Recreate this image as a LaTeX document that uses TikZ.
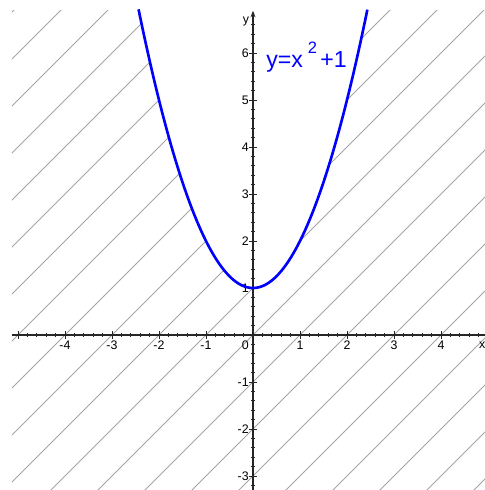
\documentclass[tikz,border=0pt]{standalone}
\usepackage{fontspec}
\setmainfont{Liberation Sans}
\usepackage{tikz}
\usetikzlibrary{arrows.meta,positioning,calc}
\usepackage{xcolor}
\definecolor{hatchgray}{RGB}{165,165,165}
\definecolor{curveblue}{RGB}{0,0,255}

\begin{document}
\begin{tikzpicture}[
    axis/.style={line width=0.75pt, black!85},
    tick/.style={line width=0.55pt, black!85},
    hatch/.style={hatchgray, line width=0.45pt},
    curve/.style={curveblue, line width=1.6pt},
    ticklabel/.style={font=\fontsize{7.5}{9}\selectfont, inner sep=1pt}
]
    \useasboundingbox (-5.383,-3.298) rectangle (4.936,7.128);

    \begin{scope}
        \clip (-5.13,-3.4) -- (5.1,-3.4) -- (5.1,6.915) -- (2.432,6.915)
            -- plot[domain=2.432:-2.432, samples=80] (\x,{\x*\x+1})
            -- (-5.13,6.915) -- cycle;
        \foreach \n in {-9,...,13}
            \draw[hatch] (-5.6,-5.6+\n) -- (5.6,5.6+\n);
    \end{scope}

    \draw[axis] (-5.13,0) -- (5.0,0);
    \draw[axis, -{Stealth[length=4pt,width=3pt]}] (0,-3.4) -- (0,6.9);
    \foreach \t in {-25,...,24}
        \draw[tick] (\t/5,-0.045) -- (\t/5,0.045);
    \foreach \t in {-16,...,33}
        \draw[tick] (-0.045,\t/5) -- (0.045,\t/5);
    \foreach \t in {-5,...,4}
        \draw[tick] (\t,-0.08) -- (\t,0.08);
    \foreach \t in {-3,...,6}
        \draw[tick] (-0.08,\t) -- (0.08,\t);

    \foreach \x in {-4,...,-1,1,2,3,4}
        \node[ticklabel] (xl\x) at (\x,-0.22) {\x};
    \foreach \y in {-3,...,-1,1,2,...,6}
        \node[ticklabel, anchor=east] (yl\y) at (-0.05,\y) {\y};
    \node[ticklabel, anchor=east] (origin) at (-0.05,-0.22) {0};
    \node[ticklabel] (xname) at (4.88,-0.21) {x};
    \node[ticklabel] (yname) at (-0.15,6.68) {y};

    \draw[curve] plot[domain=-2.435:2.435, samples=100] (\x,{\x*\x+1});

    \node[anchor=base west, text=curveblue, inner sep=0,
          font=\fontsize{14}{17}\selectfont] (eqn) at (0.277,5.70)
        {y=x\hspace{3pt}\raisebox{0.3cm}{\fontsize{10}{12}\selectfont 2}\hspace{2pt}+1};
\end{tikzpicture}
\end{document}
